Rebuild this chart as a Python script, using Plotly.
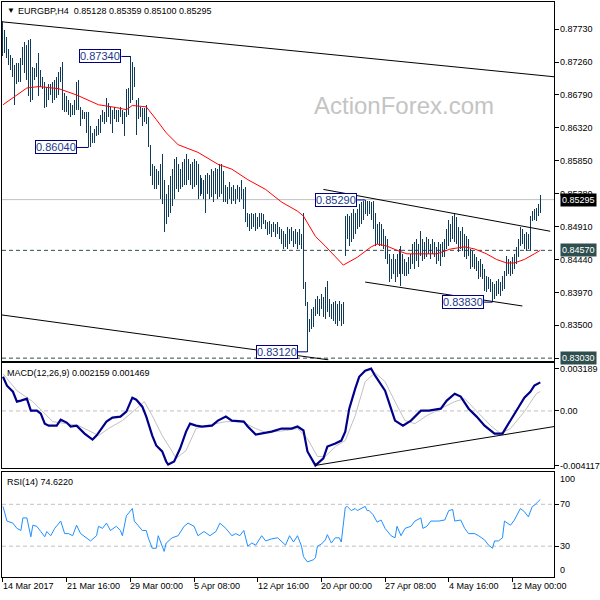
import plotly.graph_objects as go

# ---------------- data ----------------
bar_index = list(range(271))

highs = [
    .8785, .8772, .8762, .8744, .8736, .8732, .8722, .8725, .8725, .8732,
    .8748, .8754, .8751, .8758, .8759, .8719, .8718, .8725, .8739, .8715,
    .8705, .8697, .8691, .8694, .8694, .8698, .8701, .8704, .8712, .8719,
    .8726, .8682, .8677, .8672, .8668, .8665, .8672, .8698, .8701, .8662,
    .8658, .8654, .8655, .8654, .8634, .8625, .8630, .8634, .8644, .8651,
    .8658, .8654, .8675, .8668, .8662, .8658, .8662, .8658, .8658, .8662,
    .8658, .8655, .8687, .8689, .8734, .8726, .8719, .8672, .8675, .8662,
    .8661, .8661, .8665, .8648, .8608, .8580, .8577, .8573, .8570, .8580,
    .8594, .8558, .8537, .8551, .8563, .8573, .8587, .8590, .8580, .8573,
    .8583, .8587, .8594, .8587, .8580, .8583, .8587, .8584, .8580, .8565,
    .8561, .8558, .8565, .8568, .8565, .8573, .8570, .8575, .8573, .8580,
    .8580, .8570, .8551, .8547, .8554, .8548, .8551, .8544, .8551, .8547,
    .8558, .8544, .8548, .8511, .8509, .8511, .8509, .8511, .8504, .8511,
    .8511, .8509, .8501, .8497, .8499, .8494, .8497, .8494, .8497, .8490,
    .8487, .8484, .8480, .8490, .8487, .8490, .8484, .8487, .8483, .8487,
    .8480, .8511, .8412, .8383, .8359, .8373, .8376, .8387, .8392, .8387,
    .8395, .8390, .8405, .8413, .8387, .8380, .8383, .8385, .8380, .8385,
    .8380, .8383, .8506, .8509, .8506, .8511, .8516, .8511, .8516, .8523,
    .8526, .8528, .8529, .8527, .8528, .8526, .8527, .8511, .8494, .8497,
    .8494, .8487, .8477, .8473, .8452, .8444, .8452, .8444, .8452, .8459,
    .8463, .8452, .8444, .8440, .8447, .8452, .8466, .8469, .8473, .8466,
    .8484, .8473, .8469, .8476, .8473, .8466, .8473, .8469, .8462, .8469,
    .8466, .8469, .8473, .8487, .8501, .8494, .8506, .8511, .8504, .8490,
    .8484, .8490, .8480, .8477, .8473, .8459, .8456, .8452, .8447, .8442,
    .8444, .8437, .8430, .8420, .8419, .8416, .8412, .8409, .8413, .8416,
    .8412, .8420, .8427, .8449, .8444, .8442, .8447, .8452, .8462, .8473,
    .8490, .8487, .8480, .8483, .8480, .8506, .8513, .8516, .8518, .8523,
    .85359,
]

lows = [
    .8734, .8739, .8732, .8722, .8715, .8705, .8665, .8694, .8698, .8698,
    .8722, .8711, .8701, .8677, .8669, .8672, .8701, .8705, .8677, .8691,
    .8687, .8661, .8662, .8672, .8679, .8668, .8672, .8675, .8679, .8697,
    .8658, .8654, .8654, .8651, .8648, .8651, .8651, .8658, .8658, .8634,
    .8644, .8644, .8625, .8604, .8605, .8611, .8611, .8620, .8622, .8625,
    .8641, .8637, .8640, .8647, .8637, .8625, .8644, .8640, .8641, .8648,
    .8637, .8620, .8648, .8651, .8668, .8672, .8691, .8622, .8644, .8648,
    .8634, .8640, .8637, .8605, .8563, .8551, .8544, .8544, .8551, .8530,
    .8523, .8483, .8494, .8504, .8511, .8520, .8530, .8544, .8540, .8544,
    .8547, .8551, .8550, .8558, .8551, .8544, .8547, .8551, .8530, .8534,
    .8537, .8530, .8511, .8537, .8530, .8533, .8526, .8537, .8530, .8533,
    .8537, .8526, .8526, .8523, .8530, .8523, .8527, .8523, .8530, .8526,
    .8530, .8516, .8497, .8490, .8484, .8487, .8490, .8484, .8487, .8490,
    .8487, .8494, .8487, .8479, .8480, .8476, .8483, .8476, .8480, .8473,
    .8466, .8459, .8462, .8459, .8466, .8470, .8462, .8466, .8459, .8464,
    .8459, .8402, .8378, .8312, .8340, .8345, .8348, .8363, .8366, .8363,
    .8373, .8362, .8359, .8369, .8362, .8359, .8356, .8352, .8349, .8356,
    .8349, .8352, .8449, .8473, .8463, .8469, .8473, .8480, .8487, .8490,
    .8494, .8501, .8509, .8506, .8509, .8501, .8487, .8463, .8466, .8463,
    .8463, .8459, .8444, .8437, .8412, .8416, .8423, .8412, .8419, .8423,
    .8406, .8423, .8420, .8420, .8423, .8430, .8437, .8430, .8442, .8433,
    .8449, .8442, .8444, .8447, .8452, .8444, .8452, .8447, .8437, .8442,
    .8434, .8447, .8447, .8459, .8463, .8469, .8473, .8469, .8466, .8454,
    .8459, .8456, .8447, .8444, .8449, .8430, .8433, .8430, .8427, .8416,
    .8419, .8416, .8399, .8397, .8402, .8397, .8383, .8387, .8392, .8395,
    .8392, .8399, .8402, .8420, .8423, .8420, .8423, .8430, .8437, .8447,
    .8463, .8466, .8459, .8456, .8459, .8456, .8499, .8501, .8499, .8506,
    .85100,
]

ma_idx = [0, 7, 12, 18, 28, 37, 48, 57, 62, 65, 72, 77, 82, 88, 95, 98, 108,
          115, 123, 132, 140, 148, 151, 157, 162, 171, 178, 185, 188, 193, 198,
          203, 212, 218, 225, 232, 237, 243, 248, 253, 257, 262, 267, 270]
ma_vals = [.8665, .8679, .8689, .8691, .8688, .8679, .8665, .8661, .8658, .8664,
           .8662, .8644, .8625, .8608, .8601, .8597, .8580, .8573, .8558, .8544,
           .8526, .8513, .8506, .8477, .8463, .8436, .8447, .8462, .8466, .8463,
           .8457, .8452, .8452, .8452, .8459, .8462, .8459, .8452, .8444, .8439,
           .8439, .8444, .8452, .8457]

macd_idx = [0, 2, 5, 7, 9, 12, 14, 17, 19, 21, 23, 27, 29, 32, 34, 37, 41, 45,
            47, 52, 55, 59, 62, 65, 67, 70, 72, 75, 77, 80, 82, 83, 86, 89, 92,
            94, 97, 100, 105, 108, 112, 115, 121, 123, 127, 130, 135, 140, 145,
            148, 151, 153, 157, 161, 163, 167, 170, 172, 174, 177, 179, 182,
            185, 187, 192, 195, 197, 201, 205, 210, 214, 220, 223, 227, 230,
            234, 238, 242, 247, 251, 255, 258, 262, 265, 267, 270]
macd_vals = [0.00258, 0.00191, 0.00145, 0.00070, 0.00078, 0.00093, 0.00002,
             0.00002, -0.00020, -0.00096, -0.00111, -0.00111, -0.00066, -0.00088,
             -0.00118, -0.00111, -0.00171, -0.00216, -0.00186, -0.00081, -0.00050,
             -0.00043, -0.00005, 0.00100, 0.00085, 0.00032, -0.00043, -0.00186,
             -0.00261, -0.00306, -0.00382, -0.00405, -0.00382, -0.00284, -0.00156,
             -0.00096, -0.00111, -0.00118, -0.00111, -0.00073, -0.00043, -0.00073,
             -0.00081, -0.00118, -0.00178, -0.00171, -0.00156, -0.00133, -0.00133,
             -0.00118, -0.00148, -0.00306, -0.004117, -0.00359, -0.00269, -0.00246,
             -0.00224, -0.00156, 0.00017, 0.00168, 0.00258, 0.00303, 0.003189,
             0.00266, 0.00153, 0.00017, -0.00073, -0.00111, -0.00073, 0.00002,
             0.00002, 0.00017, 0.00078, 0.00130, 0.00108, 0.00017, -0.00043,
             -0.00111, -0.00171, -0.00171, -0.00073, 0.00002, 0.00100, 0.00145,
             0.00191, 0.002159]

signal_idx = [0, 7, 15, 20, 25, 32, 38, 43, 48, 53, 60, 67, 71, 75, 80, 85, 87,
              92, 97, 102, 112, 120, 127, 132, 142, 148, 153, 158, 162, 167, 172,
              177, 182, 187, 192, 197, 202, 207, 213, 220, 227, 232, 238, 245,
              250, 255, 262, 268, 270]
signal_vals = [0.00281, 0.00153, 0.00070, -0.00005, -0.00081, -0.00096, -0.00111,
               -0.00148, -0.00186, -0.00133, -0.00073, 0.00017, 0.00070, -0.00035,
               -0.00186, -0.00306, -0.00359, -0.00299, -0.00133, -0.00111,
               -0.00081, -0.00081, -0.00133, -0.00163, -0.00148, -0.00133,
               -0.00209, -0.00344, -0.00344, -0.00269, -0.00224, -0.00035,
               0.00221, 0.00288, 0.00221, 0.00070, -0.00073, -0.00096, -0.00035,
               0.00017, 0.00070, 0.00093, -0.00005, -0.00111, -0.00171, -0.00133,
               -0.00005, 0.00130, 0.001469]

rsi_idx = [0, 2, 5, 7, 9, 10, 12, 13, 14, 15, 17, 19, 21, 22, 24, 26, 27, 29, 31,
           33, 35, 37, 39, 42, 44, 47, 48, 50, 52, 54, 57, 59, 60, 62, 64, 65, 66,
           68, 70, 72, 73, 75, 77, 78, 80, 81, 82, 85, 88, 91, 93, 96, 98, 101,
           104, 107, 109, 112, 115, 117, 119, 121, 123, 125, 127, 130, 132, 135,
           138, 142, 144, 146, 148, 150, 151, 153, 156, 157, 158, 160, 162, 163,
           165, 167, 169, 170, 172, 173, 175, 177, 178, 180, 182, 183, 184, 186,
           188, 190, 192, 195, 197, 198, 200, 202, 205, 207, 210, 211, 213, 215,
           219, 222, 224, 226, 227, 230, 232, 234, 237, 239, 242, 244, 246, 247,
           249, 251, 252, 255, 257, 260, 262, 264, 266, 267, 270]
rsi_vals = [68, 54, 52, 47, 45, 57, 57, 49, 39, 50, 49, 44, 39, 44, 40, 47, 49, 54,
            42, 42, 40, 50, 42, 38, 35, 40, 49, 47, 52, 45, 49, 45, 40, 59, 64, 66,
            54, 50, 45, 45, 38, 28, 28, 40, 31, 25, 33, 38, 40, 49, 52, 49, 40, 44,
            40, 44, 52, 47, 40, 42, 40, 45, 30, 33, 31, 40, 35, 37, 38, 31, 40, 34,
            40, 30, 20, 15, 17, 19, 30, 32, 36, 41, 33, 38, 38, 34, 67, 68, 64, 66,
            64, 66, 68, 64, 64, 60, 53, 55, 47, 40, 38, 49, 40, 47, 49, 54, 57, 47,
            49, 54, 54, 55, 64, 65, 54, 55, 47, 42, 42, 40, 36, 31, 28, 35, 35, 38,
            54, 50, 55, 66, 63, 58, 68, 69, 74.622]

date_ticks = [0, 32, 64, 96, 128, 160, 192, 224, 256]
date_labels = ["14 Mar 2017", "21 Mar 16:00", "29 Mar 00:00", "5 Apr 08:00",
               "12 Apr 16:00", "20 Apr 00:00", "27 Apr 08:00", "4 May 16:00",
               "12 May 00:00"]

price_ticks = [0.87730, 0.87260, 0.86790, 0.86320, 0.85850, 0.85380, 0.84910,
               0.84440, 0.83970, 0.83500, 0.83030]
macd_ticks = [0.003189, 0.0, -0.004117]
macd_tick_labels = ["0.003189", "0.00", "-0.004117"]
rsi_ticks = [70, 30]

last_open, last_high, last_low, last_close = 0.85128, 0.85359, 0.85100, 0.85295
level_lines = [0.84570, 0.83030]
macd_last, signal_last = 0.002159, 0.001469
rsi_last = 74.6220

swing_idx = [64, 43, 182, 153, 246]
swing_price = [0.87340, 0.86040, 0.85290, 0.83120, 0.83830]
swing_text = ["0.87340", "0.86040", "0.85290", "0.83120", "0.83830"]

# trend lines: (bar0, value0, bar1, value1)
price_trendlines = [
    (0, 0.87834, 277, 0.87050),
    (-0.5, 0.83647, 163.5, 0.83006),
    (161, 0.85441, 275, 0.84843),
    (182, 0.84117, 261, 0.83775),
]
macd_trendline = (157, -0.004117, 277, -0.00118)

# ---------------- styling ----------------
FONT = "Liberation Sans, Arial, sans-serif"
BAR_COLOR = "#0f3b5a"
NAVY = "#000080"
X_DOMAIN = [2 / 600, 557 / 600]
X_RANGE = [-0.5, 277]
box_right = [59.5, 37, 178, 148, 241.5]

# price bars as vertical high-low segments
seg_x, seg_y = [], []
for i, h, l in zip(bar_index, highs, lows):
    seg_x += [i, i, None]
    seg_y += [l, h, None]

fig = go.Figure()
fig.add_trace(go.Scatter(x=seg_x, y=seg_y, mode="lines",
                         line=dict(color=BAR_COLOR, width=1),
                         xaxis="x", yaxis="y", hoverinfo="skip"))
fig.add_trace(go.Scatter(x=ma_idx, y=ma_vals, mode="lines",
                         line=dict(color="#ff0000", width=1),
                         xaxis="x", yaxis="y"))
fig.add_trace(go.Scatter(x=signal_idx, y=signal_vals, mode="lines",
                         line=dict(color="#c0c0c0", width=1),
                         xaxis="x2", yaxis="y2"))
fig.add_trace(go.Scatter(x=macd_idx, y=macd_vals, mode="lines",
                         line=dict(color="#00008b", width=2.2),
                         xaxis="x2", yaxis="y2"))
fig.add_trace(go.Scatter(x=rsi_idx, y=rsi_vals, mode="lines",
                         line=dict(color="#1e90ff", width=1),
                         xaxis="x3", yaxis="y3"))

common_x = dict(domain=X_DOMAIN, range=X_RANGE, showline=True, mirror=True,
                linecolor="black", linewidth=1, showgrid=False, zeroline=False,
                showticklabels=False)
common_y = dict(side="right", showline=True, mirror=True, linecolor="black",
                linewidth=1, showgrid=False, zeroline=False, ticks="outside",
                ticklen=4, tickcolor="black", tickwidth=1,
                ticklabelstandoff=-1,
                tickfont=dict(family=FONT, size=9, color="black"))

fig.update_layout(
    width=600, height=600, margin=dict(l=0, r=0, t=0, b=0),
    paper_bgcolor="white", plot_bgcolor="white", showlegend=False,
    xaxis=dict(**common_x, anchor="y", ticks=""),
    xaxis2=dict(**common_x, anchor="y2", matches="x", ticks=""),
    xaxis3=dict(**common_x, anchor="y3", matches="x", ticks="outside",
                tickvals=date_ticks, ticklen=4, tickcolor="black"),
    yaxis=dict(**common_y, anchor="x", domain=[1 - 362 / 600, 1 - 2 / 600],
               range=[0.829921, 0.881185], tickvals=price_ticks,
               ticktext=[f"{v:.5f}" for v in price_ticks[:-1]] + [""]),
    yaxis2=dict(**common_y, anchor="x2", domain=[1 - 470 / 600, 1 - 364 / 600],
                range=[-0.004345, 0.003637], tickvals=macd_ticks,
                ticktext=macd_tick_labels),
    yaxis3=dict(**common_y, anchor="x3", domain=[1 - 579 / 600, 1 - 474 / 600],
                range=[0.476, 100.476], tickvals=rsi_ticks,
                ticktext=[str(v) for v in rsi_ticks]),
)

shapes = []
shapes.append(dict(type="line", xref="x domain", yref="y", x0=0, x1=1,
                   y0=last_close, y1=last_close,
                   line=dict(color="#c0c0c0", width=1), layer="below"))
for lv in level_lines:
    shapes.append(dict(type="line", xref="x domain", yref="y", x0=0, x1=1,
                       y0=lv, y1=lv,
                       line=dict(color="#2f4f4f", width=1, dash="4px,3px"),
                       layer="below"))
shapes.append(dict(type="line", xref="x2 domain", yref="y2", x0=0, x1=1,
                   y0=0, y1=0, line=dict(color="#c0c0c0", width=1, dash="4px,3px"),
                   layer="below"))
for lv in rsi_ticks:
    shapes.append(dict(type="line", xref="x3 domain", yref="y3", x0=0, x1=1,
                       y0=lv, y1=lv,
                       line=dict(color="#c0c0c0", width=1, dash="4px,3px"),
                       layer="below"))
for (a0, v0, a1, v1) in price_trendlines:
    shapes.append(dict(type="line", xref="x", yref="y", x0=a0, y0=v0, x1=a1, y1=v1,
                       line=dict(color="black", width=1)))
a0, v0, a1, v1 = macd_trendline
shapes.append(dict(type="line", xref="x2", yref="y2", x0=a0, y0=v0, x1=a1, y1=v1,
                   line=dict(color="black", width=1)))
for bi, pv, br in zip(swing_idx, swing_price, box_right):
    shapes.append(dict(type="line", xref="x", yref="y", x0=br, x1=bi, y0=pv, y1=pv,
                       line=dict(color=NAVY, width=1)))
fig.update_layout(shapes=shapes)

ann = []
ann.append(dict(xref="paper", yref="paper", x=5 / 600, y=1 - 11 / 600,
                text="▼", showarrow=False, xanchor="left", yanchor="middle",
                font=dict(family=FONT, size=8, color="black")))
ann.append(dict(xref="paper", yref="paper", x=16 / 600, y=1 - 11 / 600,
                text=f"EURGBP,H4  {last_open:.5f} {last_high:.5f} {last_low:.5f} {last_close:.5f}",
                showarrow=False, xanchor="left", yanchor="middle",
                font=dict(family=FONT, size=9, color="black")))
ann.append(dict(xref="paper", yref="paper", x=5 / 600, y=1 - 374 / 600,
                text=f"MACD(12,26,9) {macd_last:.6f} {signal_last:.6f}",
                showarrow=False, xanchor="left", yanchor="middle",
                font=dict(family=FONT, size=9, color="black")))
ann.append(dict(xref="paper", yref="paper", x=5 / 600, y=1 - 484 / 600,
                text=f"RSI(14) {rsi_last:.4f}",
                showarrow=False, xanchor="left", yanchor="middle",
                font=dict(family=FONT, size=9, color="black")))
ann.append(dict(xref="paper", yref="paper", x=406 / 600, y=1 - 106 / 600,
                text="ActionForex.com", showarrow=False,
                xanchor="center", yanchor="middle",
                font=dict(family=FONT, size=24, color="#c4c4c4")))
for t, lab in zip(date_ticks, date_labels):
    ann.append(dict(xref="x3", yref="paper", x=t, y=1 - 588 / 600, text=lab,
                    showarrow=False, xanchor="left", yanchor="middle", xshift=-2,
                    font=dict(family=FONT, size=9, color="black")))
ann.append(dict(xref="paper", yref="y3", x=561 / 600, y=100.476, text="100",
                showarrow=False, xanchor="left", yanchor="top",
                font=dict(family=FONT, size=9, color="black")))
ann.append(dict(xref="paper", yref="y3", x=561 / 600, y=0.476, text="0",
                showarrow=False, xanchor="left", yanchor="bottom",
                font=dict(family=FONT, size=9, color="black")))
ann.append(dict(xref="paper", yref="y", x=1.0, y=last_close,
                text=f"{last_close:.5f}", showarrow=False, xanchor="right",
                yanchor="middle", bgcolor="black", borderpad=1,
                font=dict(family=FONT, size=9, color="white")))
for lv in level_lines:
    ann.append(dict(xref="paper", yref="y", x=1.0, y=lv,
                    text=f"{lv:.5f}", showarrow=False, xanchor="right",
                    yanchor="middle", bgcolor="#2f4f4f", borderpad=1,
                    font=dict(family=FONT, size=9, color="white")))
for pv, br, txt in zip(swing_price, box_right, swing_text):
    ann.append(dict(xref="x", yref="y", x=br, y=pv, text=txt, showarrow=False,
                    xanchor="right", yanchor="middle", bgcolor="white",
                    bordercolor=NAVY, borderwidth=1, borderpad=0,
                    font=dict(family=FONT, size=11, color="#1a3a8a")))
fig.update_layout(annotations=ann)

post_js = """
document.body.style.margin='0px';
document.body.style.overflow='hidden';
var gd = document.getElementById('{plot_id}');
function crispBars(){
  var traces = gd.querySelectorAll('.subplot.xy .scatterlayer .trace');
  if (traces.length) {
    traces[0].querySelectorAll('path').forEach(function(p){
      p.style.shapeRendering = 'crispEdges';
    });
  }
}
crispBars();
if (gd.on) { gd.on('plotly_afterplot', crispBars); }
"""

fig.write_html("out.html", config={"displayModeBar": False}, post_script=post_js)
